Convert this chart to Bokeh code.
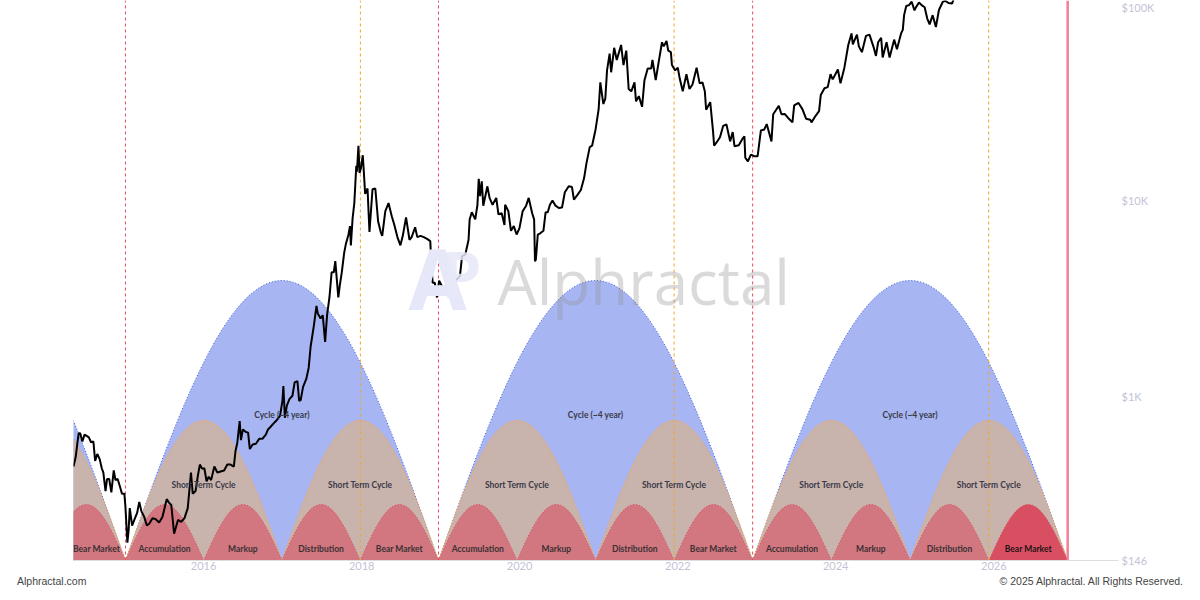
import numpy as np
import pandas as pd
from bokeh.plotting import figure
from bokeh.layouts import column
from bokeh.core.properties import value
from bokeh.models import (Range1d, FixedTicker, CustomJSTickFormatter, Label, LabelSet,
                          ColumnDataSource, LinearScale, Div)
from bokeh.embed import file_html
from bokeh.resources import INLINE

# ---------------- data ----------------
price_dates = [
    "2014-05-10", "2014-05-20", "2014-05-28", "2014-06-03", "2014-06-10", "2014-06-20", "2014-06-30",
    "2014-07-10", "2014-07-20", "2014-07-30", "2014-08-10", "2014-08-18", "2014-08-28", "2014-09-08",
    "2014-09-18", "2014-09-25", "2014-10-05", "2014-10-12", "2014-10-22", "2014-11-01", "2014-11-12",
    "2014-11-20", "2014-11-30", "2014-12-10", "2014-12-20", "2014-12-31",
    "2015-01-05", "2015-01-14", "2015-01-20", "2015-01-25", "2015-02-05", "2015-02-15", "2015-02-28",
    "2015-03-10", "2015-03-20", "2015-04-01", "2015-04-14", "2015-04-25", "2015-05-10", "2015-05-25",
    "2015-06-10", "2015-06-25", "2015-07-10", "2015-07-15", "2015-07-25", "2015-08-05", "2015-08-18",
    "2015-09-05", "2015-09-20", "2015-10-05", "2015-10-20", "2015-11-04", "2015-11-12", "2015-11-25",
    "2015-12-05", "2015-12-15", "2015-12-25",
    "2016-01-05", "2016-01-15", "2016-01-25", "2016-02-05", "2016-02-20", "2016-03-05", "2016-03-20",
    "2016-04-05", "2016-04-20", "2016-05-05", "2016-05-20", "2016-05-28", "2016-06-05", "2016-06-16",
    "2016-06-22", "2016-07-01", "2016-07-15", "2016-07-25", "2016-08-02", "2016-08-15", "2016-08-30",
    "2016-09-15", "2016-09-30", "2016-10-15", "2016-10-25", "2016-11-05", "2016-11-20", "2016-12-05",
    "2016-12-20", "2016-12-31",
    "2017-01-04", "2017-01-11", "2017-01-20", "2017-02-01", "2017-02-15", "2017-02-25", "2017-03-10",
    "2017-03-18", "2017-03-25", "2017-04-05", "2017-04-20", "2017-05-01", "2017-05-10", "2017-05-25",
    "2017-06-06", "2017-06-12", "2017-06-25", "2017-07-05", "2017-07-16", "2017-07-25", "2017-08-05",
    "2017-08-15", "2017-08-25", "2017-09-01", "2017-09-15", "2017-09-22", "2017-10-01", "2017-10-12",
    "2017-10-20", "2017-11-01", "2017-11-08", "2017-11-12", "2017-11-20", "2017-11-28", "2017-12-07",
    "2017-12-10", "2017-12-17", "2017-12-22", "2017-12-28",
    "2018-01-06", "2018-01-10", "2018-01-17", "2018-01-28", "2018-02-06", "2018-02-20", "2018-03-05",
    "2018-03-18", "2018-03-30", "2018-04-06", "2018-04-20", "2018-05-05", "2018-05-20", "2018-06-01",
    "2018-06-15", "2018-06-29", "2018-07-10", "2018-07-25", "2018-08-10", "2018-08-20", "2018-09-05",
    "2018-09-15", "2018-09-30", "2018-10-15", "2018-11-01", "2018-11-14", "2018-11-20", "2018-11-25",
    "2018-12-05", "2018-12-15", "2018-12-25",
    "2019-01-10", "2019-01-28", "2019-02-10", "2019-02-25", "2019-03-10", "2019-03-31", "2019-04-10",
    "2019-04-25", "2019-05-10", "2019-05-15", "2019-05-25", "2019-06-10", "2019-06-20", "2019-06-26",
    "2019-07-02", "2019-07-10", "2019-07-17", "2019-08-05", "2019-08-15", "2019-08-29", "2019-09-15",
    "2019-09-25", "2019-10-10", "2019-10-23", "2019-10-26", "2019-11-10", "2019-11-22", "2019-12-05",
    "2019-12-18", "2019-12-31",
    "2020-01-15", "2020-01-31", "2020-02-12", "2020-02-28", "2020-03-08", "2020-03-12", "2020-03-16",
    "2020-03-25", "2020-04-05", "2020-04-20", "2020-04-30", "2020-05-10", "2020-05-20", "2020-06-01",
    "2020-06-15", "2020-06-30", "2020-07-15", "2020-07-28", "2020-08-15", "2020-08-30", "2020-09-08",
    "2020-09-25", "2020-10-10", "2020-10-25", "2020-11-05", "2020-11-20", "2020-12-01", "2020-12-17",
    "2020-12-31",
    "2021-01-08", "2021-01-22", "2021-01-31", "2021-02-08", "2021-02-20", "2021-02-27", "2021-03-13",
    "2021-03-25", "2021-04-14", "2021-04-25", "2021-05-08", "2021-05-19", "2021-05-31", "2021-06-15",
    "2021-06-22", "2021-07-05", "2021-07-20", "2021-07-31", "2021-08-15", "2021-08-31", "2021-09-06",
    "2021-09-21", "2021-10-05", "2021-10-20", "2021-10-28", "2021-11-10", "2021-11-18", "2021-11-30",
    "2021-12-05", "2021-12-20",
    "2022-01-01", "2022-01-10", "2022-01-24", "2022-02-10", "2022-02-24", "2022-03-10", "2022-03-29",
    "2022-04-12", "2022-04-25", "2022-05-06", "2022-05-12", "2022-05-31", "2022-06-13", "2022-06-18",
    "2022-06-30", "2022-07-15", "2022-07-30", "2022-08-14", "2022-08-31", "2022-09-12", "2022-09-20",
    "2022-10-10", "2022-10-28", "2022-11-05", "2022-11-09", "2022-11-21", "2022-12-05", "2022-12-20",
    "2023-01-05", "2023-01-20", "2023-02-05", "2023-02-16", "2023-03-10", "2023-03-18", "2023-04-13",
    "2023-04-25", "2023-05-10", "2023-05-25", "2023-06-15", "2023-06-23", "2023-07-13", "2023-07-31",
    "2023-08-17", "2023-09-05", "2023-09-11", "2023-09-30", "2023-10-16", "2023-10-24", "2023-11-10",
    "2023-11-25", "2023-12-08", "2023-12-18",
    "2024-01-11", "2024-01-23", "2024-02-10", "2024-02-28", "2024-03-14", "2024-03-20", "2024-04-08",
    "2024-04-17", "2024-05-01", "2024-05-20", "2024-06-05", "2024-06-24", "2024-07-05", "2024-07-15",
    "2024-07-29", "2024-08-05", "2024-08-23", "2024-09-06", "2024-09-27", "2024-10-10", "2024-10-29",
    "2024-11-06", "2024-11-12", "2024-11-22", "2024-12-05", "2024-12-17", "2024-12-30",
    "2025-01-07", "2025-01-20", "2025-02-01", "2025-02-15", "2025-02-27", "2025-03-10", "2025-03-24",
    "2025-04-08", "2025-04-22", "2025-05-10", "2025-05-22", "2025-06-05", "2025-06-22", "2025-07-03",
    "2025-07-14",
]
price_values = [
    440, 490, 580, 650, 650, 590, 640,
    630, 620, 585, 590, 470, 510, 480,
    430, 410, 330, 380, 380, 325, 420,
    375, 380, 350, 320, 320,
    275, 180, 210, 270, 220, 235, 255,
    290, 260, 245, 220, 225, 240, 237,
    228, 243, 285, 300, 288, 280, 200,
    235, 230, 240, 270, 410, 320, 330,
    390, 450, 430,
    430, 370, 390, 375, 440, 410, 415,
    420, 450, 450, 440, 530, 580, 750,
    600, 680, 660, 655, 540, 570, 575,
    610, 610, 640, 680, 700, 730, 760,
    800, 960,
    1130, 780, 900, 970, 1010, 1180, 1200,
    950, 960, 1120, 1230, 1400, 1800, 2300,
    2900, 2650, 2500, 2600, 1900, 2600, 3200,
    4300, 4300, 4900, 3200, 3700, 4300, 5400,
    6000, 6700, 7400, 5900, 8100, 9700, 15000,
    14000, 19000, 13800, 14500,
    17000, 14500, 10800, 11500, 6900, 11400, 11500,
    7800, 6900, 6600, 8800, 9700, 8300, 7500,
    6500, 5900, 6600, 8200, 6300, 6500, 7300,
    6500, 6600, 6500, 6350, 6200, 4500, 3800,
    3800, 3200, 3900,
    3600, 3450, 3650, 3800, 3900, 4100, 5200,
    5300, 6300, 8000, 8700, 8000, 9500, 12900,
    10500, 12500, 9400, 11800, 10300, 9500, 10300,
    8500, 8600, 7500, 9500, 8800, 7000, 7400,
    6700, 7200,
    8800, 9400, 10300, 8600, 8000, 4900, 5000,
    6700, 6800, 7000, 8700, 8700, 9500, 10000,
    9400, 9150, 9200, 11000, 11800, 11700, 10100,
    10700, 11300, 13000, 15500, 18700, 19000, 23000,
    29000,
    40000, 31000, 33000, 46000, 56000, 45000, 60000,
    52000, 62000, 49000, 58000, 37000, 36000, 40000,
    32000, 34000, 30000, 41000, 47000, 47000, 52000,
    41000, 51000, 64000, 61000, 65000, 58000, 57000,
    49000, 46000,
    47500, 41800, 36000, 44000, 37000, 39000, 47500,
    39500, 40000, 36000, 29000, 31700, 22500, 19000,
    19800, 21000, 24000, 24400, 20000, 22300, 18900,
    19100, 20700, 21200, 16500, 15800, 17100, 16800,
    16800, 22700, 23000, 24500, 20000, 27500, 30400,
    27500, 27600, 26400, 25000, 30500, 31400, 29200,
    26100, 25800, 25000, 27000, 28500, 34500, 37300,
    37800, 44000, 41400,
    46500, 39500, 47500, 62000, 71000, 62500, 70000,
    61000, 57000, 69000, 70000, 60500, 54500, 64000,
    67500, 53500, 64000, 53500, 66000, 59000, 71000,
    74000, 88000, 98000, 99000, 103000, 93000,
    97000, 102000, 99000, 96500, 84500, 79000, 88000,
    76500, 93500, 103000, 104000, 101500, 101000, 109500,
    121000,
]

cycle_bounds = ["2011-01-20", "2015-01-05", "2018-12-22", "2022-12-13", "2026-12-08"]
peak_dates = ["2017-12-26", "2021-12-15", "2025-12-08"]
phase_names = ["Accumulation", "Markup", "Distribution", "Bear Market"]
cycle_name = "Cycle (~4 year)"
short_name = "Short Term Cycle"
arc_heights = [0.5, 0.25, 0.1]          # cycle, short-term, phase (fraction of plot height)
label_levels = [0.259, 0.134, 0.021]
y_ticks = [146, 1000, 10000, 100000]
x_tick_years = [2016, 2018, 2020, 2022, 2024, 2026]
x_start, x_end = "2014-05-10", "2027-07-31"
y_start, y_end = 146, 104500
footer_left = "Alphractal.com"
footer_right = "\u00a9 2025 Alphractal. All Rights Reserved."


def ms(d):
    return pd.Timestamp(d).value / 1e6


# ---------------- figure ----------------
p = figure(width=1200, height=573, x_axis_type="datetime", y_axis_type="log",
           y_axis_location="right", output_backend="svg", toolbar_location=None,
           x_range=Range1d(ms(x_start), ms(x_end)), y_range=Range1d(y_start, y_end),
           min_border_left=73, min_border_right=82, min_border_top=0, min_border_bottom=13)
p.outline_line_color = None
p.xgrid.visible = False
p.ygrid.visible = False
p.background_fill_color = "white"
p.border_fill_color = "white"
p.extra_y_ranges = {"arc": Range1d(0, 1)}
p.extra_y_scales = {"arc": LinearScale()}

xa0, xa1 = ms(x_start), ms(x_end)
ms_per_px = (xa1 - xa0) / 1045.0
bounds = [ms(d) for d in cycle_bounds]
t = np.linspace(0, 1, 120)


def arc(a, b, h):
    return list(a + t * (b - a)), list(h * np.sin(np.pi * t))


blue_xs, blue_ys, tan_xs, tan_ys, red_xs, red_ys, red_cols = [], [], [], [], [], [], []
lab_x, lab_y, lab_t, lab_c = [], [], [], []
ncyc = len(bounds) - 1
for i in range(ncyc):
    a, b = bounds[i], bounds[i + 1]
    L = b - a
    xs, ys = arc(a, b, arc_heights[0])
    blue_xs.append(xs); blue_ys.append(ys)
    if xa0 <= a + L / 2 <= xa1:
        lab_x.append(a + L / 2); lab_y.append(label_levels[0]); lab_t.append(cycle_name); lab_c.append("#3a3a48")
    for j in range(2):
        sa, sb = a + j * L / 2, a + (j + 1) * L / 2
        xs, ys = arc(sa, sb, arc_heights[1])
        tan_xs.append(xs); tan_ys.append(ys)
        c = (sa + sb) / 2
        if xa0 <= c <= xa1:
            lab_x.append(c); lab_y.append(label_levels[1]); lab_t.append(short_name); lab_c.append("#3a3a48")
    for q in range(4):
        qa, qb = a + q * L / 4, a + (q + 1) * L / 4
        xs, ys = arc(qa, qb, arc_heights[2])
        red_xs.append(xs); red_ys.append(ys)
        last = (i == ncyc - 1 and q == 3)
        red_cols.append("#d94f62" if last else "#d2767f")
        c = (qa + qb) / 2
        if xa0 - L / 16 <= c <= xa1:
            c = max(c, xa0 + 23 * ms_per_px)   # keep the partial label inside the frame
            lab_x.append(c); lab_y.append(label_levels[2]); lab_t.append(phase_names[q])
            lab_c.append("#1e1416" if last else "#3a3234")

p.patches(blue_xs, blue_ys, y_range_name="arc", fill_color="#a7b6f2", line_color="#3b5ad8",
          line_width=1, line_dash="1 2")
p.patches(tan_xs, tan_ys, y_range_name="arc", fill_color="#c9b4ad", line_color="#f0a860",
          line_width=1, line_dash="2 1")
p.patches(red_xs, red_ys, y_range_name="arc", fill_color=red_cols, line_color="#e0405a",
          line_width=1, line_dash="1 2")

# vertical markers
red_lines = [ms(d) for d in cycle_bounds[1:-1]]
p.segment(x0=red_lines, x1=red_lines, y0=0, y1=1, y_range_name="arc",
          line_color="#e4485f", line_width=1, line_dash="3 3")
pk = [ms(d) for d in peak_dates]
p.segment(x0=pk, x1=pk, y0=0, y1=1, y_range_name="arc",
          line_color="#f0a72c", line_width=1, line_dash="3 3")
endl = [ms(cycle_bounds[-1])]
p.segment(x0=endl, x1=endl, y0=0, y1=1, y_range_name="arc",
          line_color="#f27f95", line_width=2.5)

# phase labels
lsrc = ColumnDataSource(dict(x=lab_x, y=lab_y, text=lab_t, color=lab_c))
p.add_layout(LabelSet(x="x", y="y", text="text", source=lsrc, y_range_name="arc",
                      text_align="center", text_baseline="middle", text_font=value("Lato"),
                      text_font_style="bold", text_font_size="8.5px", text_color="color"))

# watermark
p.add_layout(Label(x=335, y=283, x_units="screen", y_units="screen", text="A",
                   text_font="Noto Sans", text_font_style="bold", text_font_size="84px",
                   text_color="#e6e7f8", text_baseline="middle"))
p.add_layout(Label(x=368, y=287, x_units="screen", y_units="screen", text="P",
                   text_font="Noto Sans", text_font_style="bold", text_font_size="64px",
                   text_color="#e6e7f8", text_alpha=0.85, text_baseline="middle"))
p.add_layout(Label(x=424, y=280, x_units="screen", y_units="screen", text="Alphractal",
                   text_font="Open Sans", text_font_size="62px", text_color="#8f8f8f",
                   text_alpha=0.33, text_baseline="middle"))

# price
px = [ms(d) for d in price_dates]
p.line(px, price_values, line_color="black", line_width=2)

# axes
ya = p.yaxis[0]
ya.ticker = FixedTicker(ticks=y_ticks)
ya.formatter = CustomJSTickFormatter(code="""
    if (tick >= 1000) { return '$' + Math.round(tick/1000) + 'K'; }
    return '$' + Math.round(tick);
""")
ya.axis_line_color = None
ya.major_tick_line_color = None
ya.minor_tick_line_color = None
ya.major_tick_out = 0
ya.major_tick_in = 0
ya.major_label_standoff = 3
ya.major_label_text_color = "#c3c3d6"
ya.major_label_text_font = "Lato"
ya.major_label_text_font_size = "11px"

xa = p.xaxis[0]
xa.ticker = FixedTicker(ticks=[ms(f"{y}-01-01") for y in x_tick_years])
xa.formatter = CustomJSTickFormatter(code="return String(new Date(tick).getUTCFullYear());")
xa.axis_line_color = "#dddddd"
xa.major_tick_line_color = None
xa.minor_tick_line_color = None
xa.major_tick_out = 0
xa.major_tick_in = 0
xa.major_label_standoff = 1
xa.major_label_text_color = "#c3c3d6"
xa.major_label_text_font = "Lato"
xa.major_label_text_font_size = "11px"

# footer
footer = Div(width=1200, height=27, margin=(0, 0, 0, 0), text=(
    '<div style="width:1200px;box-sizing:border-box;padding:0 17px;display:flex;'
    'justify-content:space-between;font-family:\'Liberation Sans\',Arial,sans-serif;'
    'font-size:10.5px;line-height:12px;color:#444444;">'
    f'<span>{footer_left}</span><span>{footer_right}</span></div>'))

open("out.html", "w").write(file_html(column(p, footer, spacing=0), INLINE))
